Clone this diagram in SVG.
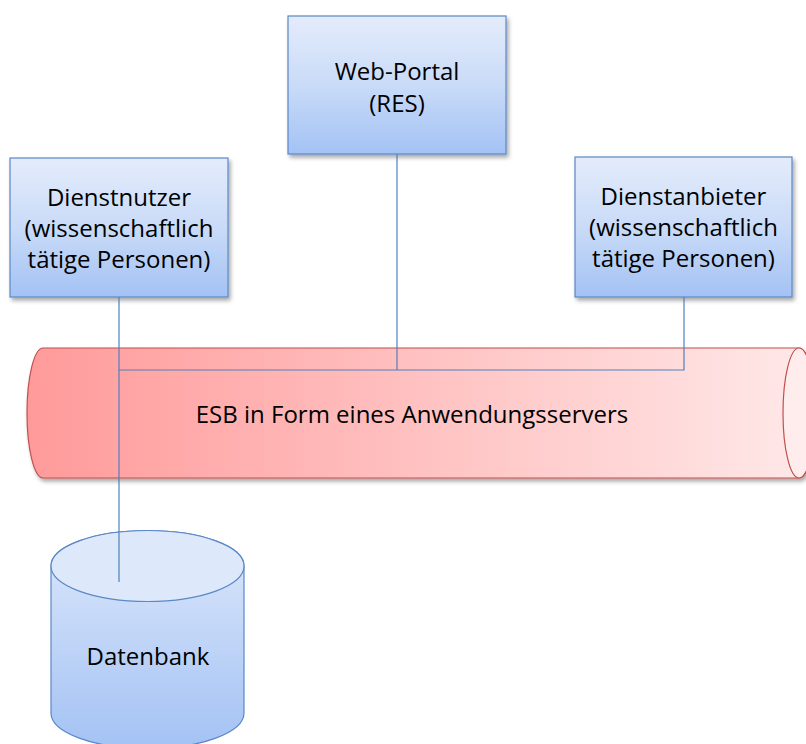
<svg xmlns="http://www.w3.org/2000/svg" width="806" height="744" viewBox="0 0 806 744">
<defs>
<linearGradient id="gBox" x1="0" y1="0" x2="0" y2="1">
<stop offset="0" stop-color="#e4ecfb"/>
<stop offset="0.5" stop-color="#c9dbf8"/>
<stop offset="1" stop-color="#a3c2f4"/>
</linearGradient>
<linearGradient id="gDb" x1="0" y1="0" x2="0" y2="1">
<stop offset="0" stop-color="#dde8fb"/>
<stop offset="1" stop-color="#a3c2f4"/>
</linearGradient>
<linearGradient id="gEsb" gradientUnits="userSpaceOnUse" x1="27" y1="0" x2="806" y2="0">
<stop offset="0" stop-color="#ff9a9a"/>
<stop offset="1" stop-color="#ffe8e8"/>
</linearGradient>
<filter id="sh" x="-10%" y="-10%" width="125%" height="130%">
<feGaussianBlur in="SourceAlpha" stdDeviation="2"/>
<feOffset dx="2" dy="3" result="b"/>
<feComponentTransfer><feFuncA type="linear" slope="0.35"/></feComponentTransfer>
<feMerge><feMergeNode/><feMergeNode in="SourceGraphic"/></feMerge>
</filter>
</defs>
<style>
.box{fill:url(#gBox);stroke:#5b88c6;stroke-width:1.2}
.db{fill:url(#gDb);stroke:#5b88c6;stroke-width:1.2}
.esb{stroke:#c0504d;stroke-width:1.2}
.t{font-family:"Open Sans","Liberation Sans",sans-serif;font-size:24px;fill:#000;text-anchor:middle}
.c{fill:none;stroke:#4f81bd;stroke-width:1.2}
</style>
<g id="esb">
<path class="esb" filter="url(#sh)" fill="url(#gEsb)" d="M43 348 H799 A16 65 0 0 1 799 478 H43 A16 65 0 0 1 43 348 Z"/>
<ellipse class="esb" cx="799" cy="413" rx="16" ry="65" fill="#ffeded"/>
<text class="t" x="412" y="423">ESB in Form eines Anwendungsservers</text>
</g>
<g id="webportal">
<rect class="box" filter="url(#sh)" x="288" y="16" width="218" height="138"/>
<text class="t" x="397" y="80">Web-Portal</text>
<text class="t" x="397" y="112">(RES)</text>
</g>
<g id="dienstnutzer">
<rect class="box" filter="url(#sh)" x="10" y="158" width="218" height="139"/>
<text class="t" x="119" y="206">Dienstnutzer</text>
<text class="t" x="119" y="237">(wissenschaftlich</text>
<text class="t" x="119" y="268">tätige Personen)</text>
</g>
<g id="dienstanbieter">
<rect class="box" filter="url(#sh)" x="575" y="157" width="217" height="140"/>
<text class="t" x="683.5" y="205">Dienstanbieter</text>
<text class="t" x="683.5" y="236">(wissenschaftlich</text>
<text class="t" x="683.5" y="267">tätige Personen)</text>
</g>
<g id="datenbank">
<path class="db" d="M51 566 V713 A96.5 35.5 0 0 0 244 713 V566 A96.5 35.5 0 0 0 51 566 Z"/>
<ellipse class="db" cx="147.5" cy="566" rx="96.5" ry="35.5" style="fill:#dde8fb"/>
<text class="t" x="148" y="665">Datenbank</text>
</g>
<g id="connectors">
<path class="c" d="M397 154 V370"/>
<path class="c" d="M684 297 V370 H119"/>
<path class="c" d="M119 297 V582"/>
</g>
</svg>
